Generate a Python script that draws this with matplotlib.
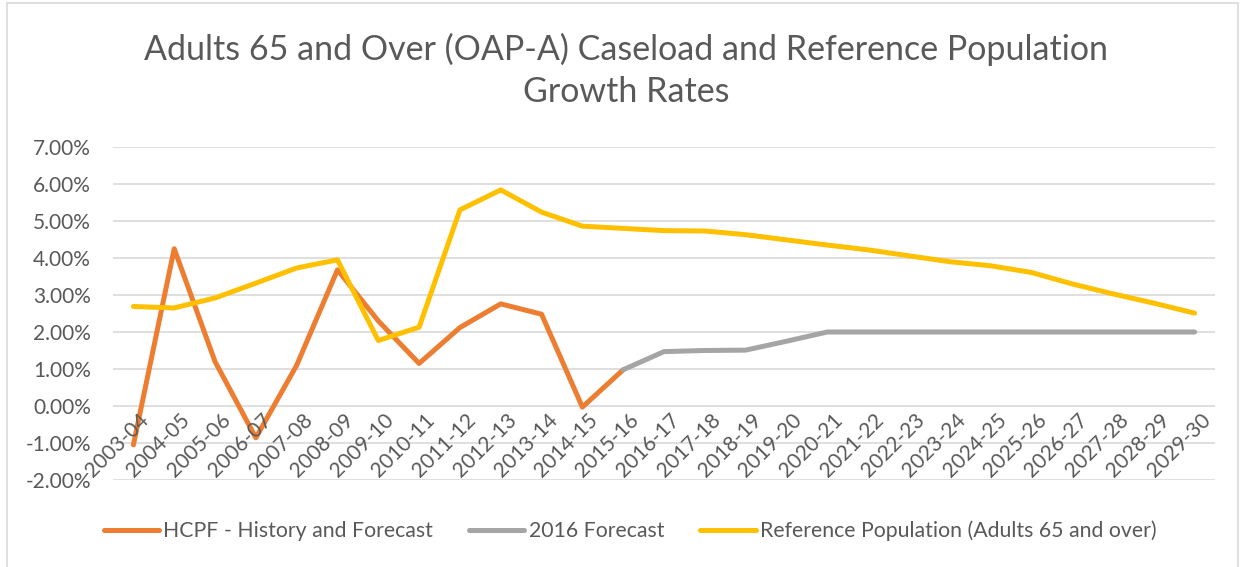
import matplotlib.pyplot as plt
from matplotlib.patches import Rectangle
from matplotlib.lines import Line2D

plt.rcParams['font.family'] = ['Lato', 'DejaVu Sans']

# -------- DATA --------
years = ["2003-04", "2004-05", "2005-06", "2006-07", "2007-08", "2008-09",
         "2009-10", "2010-11", "2011-12", "2012-13", "2013-14", "2014-15",
         "2015-16", "2016-17", "2017-18", "2018-19", "2019-20", "2020-21",
         "2021-22", "2022-23", "2023-24", "2024-25", "2025-26", "2026-27",
         "2027-28", "2028-29", "2029-30"]

# growth rates in percent
hcpf = [-1.05, 4.25, 1.20, -0.86, 1.10, 3.68, 2.30, 1.15, 2.12, 2.76,
        2.48, -0.03, 0.98]
forecast_2016 = [0.98, 1.47, 1.50, 1.51, 1.75, 2.00, 2.00, 2.00, 2.00,
                 2.00, 2.00, 2.00, 2.00, 2.00, 2.00]
ref_pop = [2.69, 2.65, 2.92, 3.32, 3.73, 3.95, 1.77, 2.13, 5.30, 5.84,
           5.24, 4.86, 4.80, 4.74, 4.73, 4.63, 4.49, 4.35, 4.22, 4.06,
           3.90, 3.79, 3.61, 3.30, 3.03, 2.78, 2.51]

y_ticks = [-2, -1, 0, 1, 2, 3, 4, 5, 6, 7]

ORANGE = "#ED7D31"
GRAY = "#A5A5A5"
YELLOW = "#FFC000"
TEXT = "#595959"

fig = plt.figure(figsize=(12.44, 5.67), dpi=100)
ax = fig.add_axes([113 / 1244, 1 - 480 / 567, 1102 / 1244, 333 / 567])

x_hcpf = range(len(hcpf))
x_fc = range(len(hcpf) - 1, len(hcpf) - 1 + len(forecast_2016))
x_ref = range(len(ref_pop))

lw = 3.6
ax.plot(x_hcpf, hcpf, color=ORANGE, lw=lw, solid_capstyle='round', solid_joinstyle='round')
ax.plot(x_fc, forecast_2016, color=GRAY, lw=lw, solid_capstyle='round', solid_joinstyle='round')
ax.plot(x_ref, ref_pop, color=YELLOW, lw=lw, solid_capstyle='round', solid_joinstyle='round')

ax.set_xlim(-0.5, len(years) - 0.5)
ax.set_ylim(-2, 7)
ax.set_yticks(y_ticks)
ax.set_yticklabels([f"{v:.2f}%" for v in y_ticks])
ax.tick_params(axis='y', length=0, pad=16, labelsize=15, labelcolor=TEXT)
ax.set_xticks([])
for s in ax.spines.values():
    s.set_visible(False)
ax.grid(axis='y', color="#D9D9D9", lw=1.2)
ax.set_axisbelow(True)

# category labels hang from the 0% axis line
for i, lab in enumerate(years):
    ax.annotate(lab, (i, 0), xytext=(4, -3), textcoords='offset points',
                rotation=45, ha='right', va='top', rotation_mode='anchor',
                fontsize=15, color=TEXT)

fig.text(626 / 1244, 1 - 49 / 567, "Adults 65 and Over (OAP-A) Caseload and Reference Population",
         ha='center', va='center', fontsize=24.5, color=TEXT)
fig.text(626 / 1244, 1 - 92 / 567, "Growth Rates",
         ha='center', va='center', fontsize=24.5, color=TEXT)

handles = [Line2D([], [], color=ORANGE, lw=lw, solid_capstyle='round'),
           Line2D([], [], color=GRAY, lw=lw, solid_capstyle='round'),
           Line2D([], [], color=YELLOW, lw=lw, solid_capstyle='round')]
labels = ["HCPF - History and Forecast", "2016 Forecast",
          "Reference Population (Adults 65 and over)"]
leg = fig.legend(handles, labels, loc='center', bbox_to_anchor=(630 / 1244, 1 - 531 / 567),
                 ncol=3, frameon=False, fontsize=15.3, handlelength=2.6,
                 handletextpad=0.2, columnspacing=1.7, labelcolor=TEXT)

fig.patches.append(Rectangle((7 / 1244, -0.02), 1231 / 1244, 1.02 - 3 / 567,
                             transform=fig.transFigure, fill=False,
                             edgecolor="#D9D9D9", lw=1.2))

fig.savefig("out.png", dpi=100)
